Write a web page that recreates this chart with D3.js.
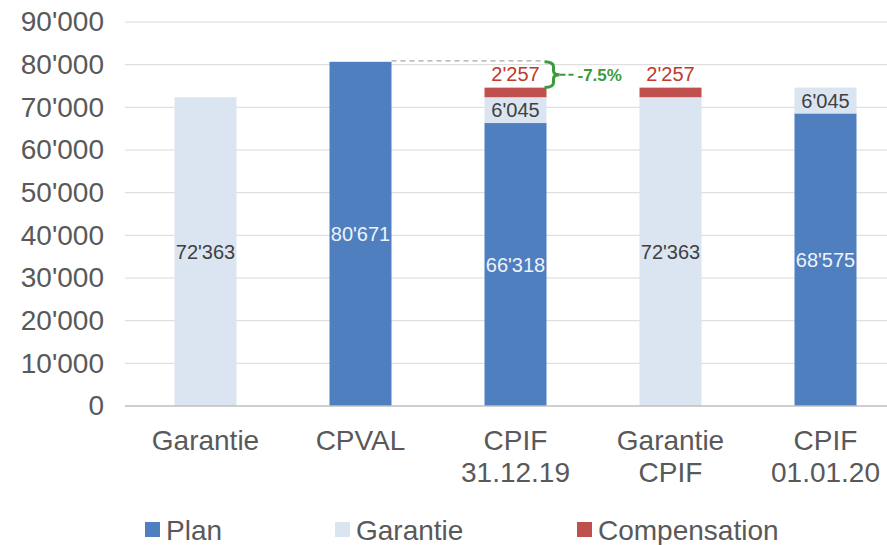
<!DOCTYPE html>
<html>
<head>
<meta charset="utf-8">
<script src="https://d3js.org/d3.v7.min.js"></script>
<style>
  body { margin: 0; background: #fff; }
  svg { font-family: "Liberation Sans", Arial, sans-serif; }
</style>
</head>
<body>
<svg id="chart" width="887" height="545"></svg>
<script>
// data
const categories = [["Garantie"], ["CPVAL"], ["CPIF", "31.12.19"], ["Garantie", "CPIF"], ["CPIF", "01.01.20"]];
const plan         = [0, 80671, 66318, 0, 68575];
const garantie     = [72363, 0, 6045, 72363, 6045];
const compensation = [0, 0, 2257, 2257, 0];
const seriesNames  = ["Plan", "Garantie", "Compensation"];
const yTicks = [0, 10000, 20000, 30000, 40000, 50000, 60000, 70000, 80000, 90000];
const diffLabel = "-7.5%";

const colors = { Plan: "#4f7fbf", Garantie: "#dbe5f1", Compensation: "#c0504d" };
const labelColors = { Plan: "#eef3fa", Garantie: "#404040", Compensation: "#c0392b" };

const svg = d3.select("#chart");

const rows = categories.map((c, i) => ({
  key: c.join(" "),
  lines: c,
  Plan: plan[i],
  Garantie: garantie[i],
  Compensation: compensation[i]
}));

const x = d3.scaleBand()
  .domain(rows.map(d => d.key))
  .range([128, 903])
  .paddingInner(0.6)
  .paddingOuter(0.3);

const y = d3.scaleLinear().domain([0, 90000]).range([406, 22]);

const fmt = v => d3.format(",")(v).replace(/,/g, "'");

// grid
svg.append("g")
  .selectAll("line")
  .data(yTicks.filter(t => t > 0))
  .join("line")
  .attr("x1", 125).attr("x2", 887)
  .attr("y1", d => y(d)).attr("y2", d => y(d))
  .attr("stroke", "#d9d9d9").attr("stroke-width", 1);

// y axis labels
const yAxis = svg.append("g")
  .attr("transform", "translate(104,0)")
  .call(d3.axisLeft(y).tickValues(yTicks).tickSize(0).tickPadding(0).tickFormat(fmt));
yAxis.select(".domain").remove();
yAxis.selectAll("text")
  .attr("fill", "#595959")
  .style("font-family", "'Liberation Sans', Arial, sans-serif")
  .style("font-size", "28px");

// stacked bars
const stack = d3.stack().keys(seriesNames);
const stacked = stack(rows);

const layers = svg.append("g")
  .selectAll("g")
  .data(stacked)
  .join("g")
  .attr("fill", d => colors[d.key]);

layers.selectAll("rect")
  .data(d => d)
  .join("rect")
  .attr("x", d => x(d.data.key))
  .attr("width", x.bandwidth())
  .attr("y", d => y(d[1]))
  .attr("height", d => y(d[0]) - y(d[1]));

// x axis baseline
svg.append("line")
  .attr("x1", 125).attr("x2", 887)
  .attr("y1", y(0)).attr("y2", y(0))
  .attr("stroke", "#bfbfbf").attr("stroke-width", 1.3);

// category labels
const cat = svg.append("g")
  .selectAll("text")
  .data(rows)
  .join("text")
  .attr("text-anchor", "middle")
  .attr("fill", "#595959")
  .style("font-size", "28px")
  .attr("x", d => x(d.key) + x.bandwidth() / 2)
  .attr("y", 450);
cat.selectAll("tspan")
  .data(d => d.lines.map(l => ({ l, cx: x(d.key) + x.bandwidth() / 2 })))
  .join("tspan")
  .attr("x", d => d.cx)
  .attr("dy", (d, i) => i === 0 ? 0 : 32)
  .text(d => d.l);

// value labels
const labelData = [];
stacked.forEach(s => {
  s.forEach(p => {
    const v = p[1] - p[0];
    if (v <= 0) return;
    const cx = x(p.data.key) + x.bandwidth() / 2;
    if (s.key === "Compensation") {
      labelData.push({ cx, cy: y(p[1]) - 14, text: fmt(v), series: s.key });
    } else {
      labelData.push({ cx, cy: y((p[0] + p[1]) / 2), text: fmt(v), series: s.key });
    }
  });
});

svg.append("g")
  .selectAll("text")
  .data(labelData)
  .join("text")
  .attr("x", d => d.cx)
  .attr("y", d => d.cy)
  .attr("dy", "0.35em")
  .attr("text-anchor", "middle")
  .attr("fill", d => labelColors[d.series])
  .style("font-size", "20px")
  .text(d => d.text);

// dashed reference line from CPVAL top to CPIF 31.12.19
const refTop = y(plan[1]);
const cpifKey = rows[2].key;
const cpifTotal = plan[2] + garantie[2] + compensation[2];
const bx = x(cpifKey) + x.bandwidth() - 2;
svg.append("line")
  .attr("x1", x(rows[1].key) + x.bandwidth()).attr("x2", bx)
  .attr("y1", refTop - 1).attr("y2", refTop - 1)
  .attr("stroke", "#a6a6a6")
  .attr("stroke-width", 1.3)
  .attr("stroke-dasharray", "5,4");

// green bracket
const yb = y(cpifTotal);
const ym = (refTop + yb) / 2;
const w = 9;
svg.append("path")
  .attr("d", `M${bx},${refTop} Q${bx + w},${refTop} ${bx + w},${refTop + 5}
    L${bx + w},${ym - 4} Q${bx + w},${ym} ${bx + w + 6},${ym}
    Q${bx + w},${ym} ${bx + w},${ym + 4}
    L${bx + w},${yb - 5} Q${bx + w},${yb} ${bx},${yb}`)
  .attr("fill", "none")
  .attr("stroke", "#3c9a3c")
  .attr("stroke-width", 3);
svg.append("line")
  .attr("x1", bx + w + 6).attr("x2", bx + w + 20)
  .attr("y1", ym).attr("y2", ym)
  .attr("stroke", "#3c9a3c")
  .attr("stroke-width", 2)
  .attr("stroke-dasharray", "6,3");
svg.append("text")
  .attr("x", bx + w + 24)
  .attr("y", ym)
  .attr("dy", "0.35em")
  .attr("fill", "#3c9a3c")
  .style("font-size", "17px")
  .style("font-weight", "bold")
  .text(diffLabel);

// legend
const legendX = [145, 335, 577];
const legend = svg.append("g")
  .selectAll("g")
  .data(seriesNames)
  .join("g")
  .attr("transform", (d, i) => `translate(${legendX[i]},522)`);
legend.append("rect")
  .attr("width", 15).attr("height", 15)
  .attr("fill", d => colors[d]);
legend.append("text")
  .attr("x", 21).attr("y", 8)
  .attr("dy", "0.35em")
  .attr("fill", "#595959")
  .style("font-size", "28px")
  .text(d => d);
</script>
</body>
</html>
